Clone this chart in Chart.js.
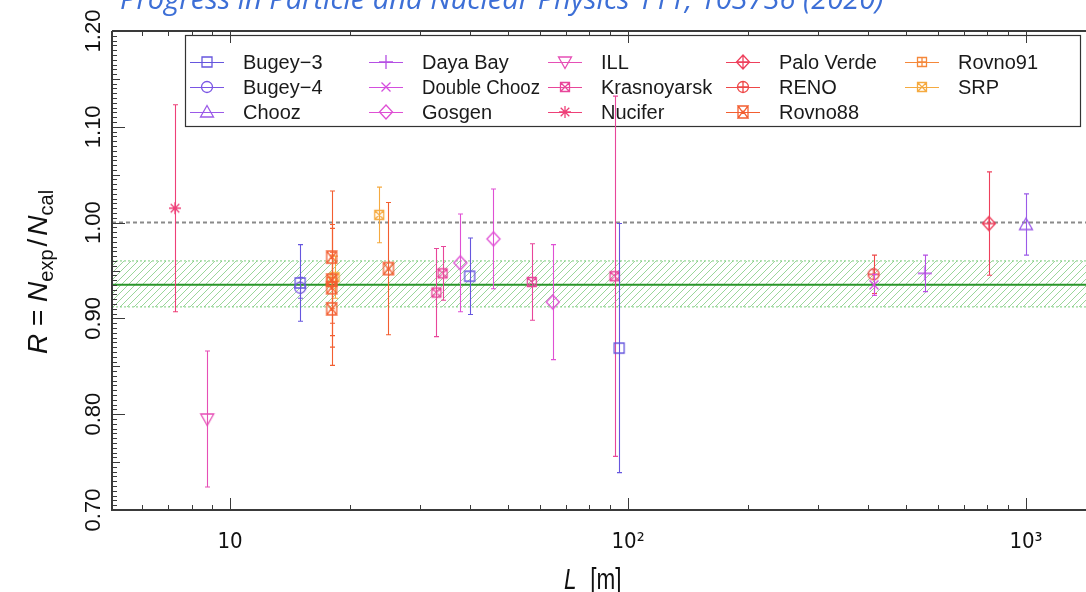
<!DOCTYPE html>
<html>
<head>
<meta charset="utf-8">
<script src="https://cdn.jsdelivr.net/npm/chart.js@4.4.1/dist/chart.umd.min.js"></script>
<style>
    html, body { margin: 0; padding: 0; background: #fff; overflow: hidden; width: 1086px; height: 592px; }
    #wrap { position: relative; width: 1086px; height: 592px; overflow: hidden; }
    #ratioCanvas { position: absolute; left: 0; top: 0; }
    #ref { position: absolute; left: 120px; top: -22px; line-height: 36px; font: italic 29px "Open Sans", sans-serif; color: #3d6fd6; white-space: nowrap; }
</style>
</head>
<body>
<div id="wrap">
    <canvas id="ratioCanvas" width="1121" height="592"></canvas>
    <div id="ref">Progress in Particle and Nuclear Physics 111, 103736 (2020)</div>
</div>
<script>
// axes
const L_MIN = 5.05, L_MAX = 1626;
const R_MIN = 0.70, R_MAX = 1.20;
const xTickLabels = { 10: '10', 100: '10²', 1000: '10³' };

// experiments (legend order)
const experiments = ['Bugey−3', 'Bugey−4', 'Chooz', 'Daya Bay', 'Double Chooz', 'Gosgen', 'ILL',
    'Krasnoyarsk', 'Nucifer', 'Palo Verde', 'RENO', 'Rovno88', 'Rovno91', 'SRP'];
const distances = [
    [15, 40, 95], [15], [1000], [557], [415], [37.9, 45.9, 64.7], [8.76],
    [33, 34.2, 57.3, 92.5], [7.27], [807], [414], [18, 18, 18, 18, 25], [18], [18.3, 23.7]
];
const ratios = [
    [0.937, 0.944, 0.869], [0.932], [0.998], [0.947], [0.935], [0.958, 0.983, 0.917], [0.795],
    [0.927, 0.947, 0.938, 0.944], [1.015], [0.999], [0.946], [0.964, 0.940, 0.932, 0.910, 0.952], [0.938], [0.943, 1.008]
];
const errors = [
    [0.040, 0.040, 0.130], [0.011], [0.032], [0.019], [0.011], [0.051, 0.052, 0.060], [0.071],
    [0.046, 0.028, 0.040, 0.188], [0.108], [0.054], [0.020], [0.069, 0.058, 0.062, 0.059, 0.069], [0.028], [0.022, 0.029]
];
const colors = ['#6656de', '#7a55e4', '#9b5ae8', '#b54fe4', '#d44fde', '#df50d4', '#e64fb6',
    '#e8469a', '#ee4078', '#ee405c', '#ee4848', '#f35e30', '#f5883a', '#f5aa40'];
const markers = ['square', 'circle', 'triUp', 'plus', 'cross', 'diamond', 'triDown',
    'boxX', 'star', 'diamondPlus', 'circlePlus', 'david', 'boxPlus', 'boxX'];

// reference lines
const meanRatio = 0.935;
const meanBand = [0.912, 0.960];
const unity = 1.0;

const FONT = '"Liberation Sans", Arial, sans-serif';
const NARROW = '"Liberation Sans Narrow", "DejaVu Sans Condensed", sans-serif';

function makeMarker(kind, color) {
    const s = 20, m = 10;
    const c = document.createElement('canvas');
    c.width = s; c.height = s;
    const g = c.getContext('2d');
    g.strokeStyle = color;
    g.lineWidth = 1.3;
    g.beginPath();
    const rect = (h) => g.rect(m - h, m - h, 2 * h, 2 * h);
    const plus = (h) => { g.moveTo(m - h, m); g.lineTo(m + h, m); g.moveTo(m, m - h); g.lineTo(m, m + h); };
    const cross = (h) => { g.moveTo(m - h, m - h); g.lineTo(m + h, m + h); g.moveTo(m - h, m + h); g.lineTo(m + h, m - h); };
    const diamond = (w, h) => { g.moveTo(m, m - h); g.lineTo(m + w, m); g.lineTo(m, m + h); g.lineTo(m - w, m); g.closePath(); };
    switch (kind) {
        case 'square': rect(5); break;
        case 'circle': g.arc(m, m, 5.5, 0, Math.PI * 2); break;
        case 'triUp': g.moveTo(m, m - 6.5); g.lineTo(m + 6.5, m + 5); g.lineTo(m - 6.5, m + 5); g.closePath(); break;
        case 'triDown': g.moveTo(m, m + 6.5); g.lineTo(m + 6.5, m - 5); g.lineTo(m - 6.5, m - 5); g.closePath(); break;
        case 'plus': plus(7); break;
        case 'cross': cross(4.5); break;
        case 'diamond': diamond(6.5, 7); break;
        case 'boxX': rect(4.5); cross(4.5); break;
        case 'star': plus(6); cross(4.3); break;
        case 'diamondPlus': diamond(6.5, 7); plus(6.5); break;
        case 'circlePlus': g.arc(m, m, 5.5, 0, Math.PI * 2); plus(5.5); break;
        case 'david':
            g.moveTo(m - 5, m - 6); g.lineTo(m + 5, m - 6); g.lineTo(m, m + 1); g.closePath();
            g.moveTo(m - 5, m + 6); g.lineTo(m + 5, m + 6); g.lineTo(m, m - 1); g.closePath();
            g.moveTo(m - 5, m - 6); g.lineTo(m - 5, m + 6); g.moveTo(m + 5, m - 6); g.lineTo(m + 5, m + 6);
            break;
        case 'boxPlus': rect(4.5); plus(4.5); break;
    }
    g.stroke();
    return c;
}

function makeHatch() {
    const t = 7;
    const c = document.createElement('canvas');
    c.width = t; c.height = t;
    const g = c.getContext('2d');
    g.strokeStyle = 'rgba(120, 200, 120, 0.75)';
    g.lineWidth = 1;
    g.beginPath();
    g.moveTo(0, t); g.lineTo(t, 0);
    g.moveTo(-1, 1); g.lineTo(1, -1);
    g.moveTo(t - 1, t + 1); g.lineTo(t + 1, t - 1);
    g.stroke();
    return g.createPattern(c, 'repeat');
}

const markerImages = markers.map((k, i) => makeMarker(k, colors[i]));

const pointSets = experiments.map((name, i) => ({
    label: name,
    type: 'scatter',
    data: distances[i].map((d, j) => ({ x: d, y: ratios[i][j] })),
    errors: errors[i],
    borderColor: colors[i],
    pointStyle: markerImages[i],
    showLine: false,
    order: 0
}));

const refLine = (val, extra) => Object.assign({
    type: 'line',
    data: [{ x: L_MIN, y: val }, { x: L_MAX, y: val }],
    pointRadius: 0,
    order: 5
}, extra);

const lineSets = [
    refLine(meanBand[1], { borderColor: 'rgba(110, 200, 110, 0.9)', borderWidth: 1, borderDash: [2, 2], fill: '+1', backgroundColor: makeHatch(), order: 6 }),
    refLine(meanBand[0], { borderColor: 'rgba(110, 200, 110, 0.9)', borderWidth: 1, borderDash: [2, 2], fill: false, order: 6 }),
    refLine(unity, { borderColor: '#8a8a8a', borderWidth: 2, borderDash: [4, 3], fill: false }),
    refLine(meanRatio, { borderColor: '#2a962a', borderWidth: 2, fill: false })
];

// error bars drawn just before each dataset's markers
const errorBars = {
    id: 'errorBars',
    beforeDatasetDraw(chart, args) {
        const ds = chart.data.datasets[args.index];
        if (!ds.errors) return;
        const { ctx, chartArea, scales: { x, y } } = chart;
        ctx.save();
        ctx.beginPath();
        ctx.rect(chartArea.left, chartArea.top, chartArea.right - chartArea.left, chartArea.bottom - chartArea.top);
        ctx.clip();
        ctx.strokeStyle = ds.borderColor;
        ctx.lineWidth = 1.1;
        ds.data.forEach((p, i) => {
            const px = Math.round(x.getPixelForValue(p.x)) + 0.5;
            const lo = y.getPixelForValue(p.y - ds.errors[i]);
            const hi = y.getPixelForValue(p.y + ds.errors[i]);
            ctx.beginPath();
            ctx.moveTo(px, lo); ctx.lineTo(px, hi);
            ctx.moveTo(px - 2.5, lo); ctx.lineTo(px + 2.5, lo);
            ctx.moveTo(px - 2.5, hi); ctx.lineTo(px + 2.5, hi);
            ctx.stroke();
        });
        ctx.restore();
    }
};

// legend box in the upper part of the frame
const legendBox = {
    id: 'legendBox',
    beforeDatasetsDraw(chart) {
        const ctx = chart.ctx;
        const colX = [207, 386, 565, 743, 922];
        const rowY = [62, 87, 112];
        ctx.save();
        ctx.strokeStyle = '#333';
        ctx.lineWidth = 1.2;
        ctx.strokeRect(185.5, 35.5, 895, 91);
        ctx.font = '20px ' + FONT;
        ctx.textBaseline = 'middle';
        ctx.fillStyle = '#1a1a1a';
        experiments.forEach((name, i) => {
            const cx = colX[Math.floor(i / 3)], cy = rowY[i % 3];
            ctx.strokeStyle = colors[i];
            ctx.lineWidth = 1.2;
            ctx.beginPath();
            ctx.moveTo(cx - 17, cy + 0.5); ctx.lineTo(cx + 17, cy + 0.5);
            ctx.stroke();
            ctx.drawImage(markerImages[i], cx - 10, cy - 10);
            ctx.fillText(name, cx + 36, cy + 1, 118);
        });
        ctx.restore();
    }
};

// frame, inner ticks and axis titles
const frame = {
    id: 'frame',
    afterDraw(chart) {
        const { ctx, chartArea: a, scales: { x, y } } = chart;
        ctx.save();
        ctx.strokeStyle = '#3a3a3a';
        ctx.lineWidth = 1;
        ctx.beginPath();
        for (let k = 0; k <= 100; k++) {
            const v = R_MIN + k * 0.005;
            const py = Math.round(y.getPixelForValue(v)) + 0.5;
            const len = k % 20 === 0 ? 13 : (k % 10 === 0 ? 8 : 5);
            ctx.moveTo(a.left, py); ctx.lineTo(a.left + len, py);
        }
        for (let d = 1; d <= 1000; d *= 10) {
            for (let m = 1; m <= 9; m++) {
                const v = d * m;
                if (v < L_MIN || v > L_MAX) continue;
                const px = Math.round(x.getPixelForValue(v)) + 0.5;
                const len = m === 1 ? 12 : 5;
                ctx.moveTo(px, a.bottom); ctx.lineTo(px, a.bottom - len);
                ctx.moveTo(px, a.top); ctx.lineTo(px, a.top + len);
            }
        }
        ctx.stroke();
        ctx.lineWidth = 2;
        ctx.beginPath();
        ctx.moveTo(a.left, a.top); ctx.lineTo(a.left, a.bottom); ctx.lineTo(a.right, a.bottom);
        ctx.moveTo(a.left, a.top); ctx.lineTo(a.right, a.top);
        ctx.stroke();

        // y title: R = N_exp / N_cal
        ctx.fillStyle = '#111';
        ctx.translate(37, 272);
        ctx.rotate(-Math.PI / 2);
        const parts = [
            { t: 'R', f: 'italic 28px ' + FONT, dy: 0 },
            { t: ' = ', f: '28px ' + FONT, dy: 0 },
            { t: 'N', f: 'italic 28px ' + FONT, dy: 0 },
            { t: 'exp', f: '20px ' + FONT, dy: 6 },
            { t: '/', f: '28px ' + FONT, dy: 0 },
            { t: 'N', f: 'italic 28px ' + FONT, dy: 0 },
            { t: 'cal', f: '20px ' + FONT, dy: 6 }
        ];
        let total = 0;
        parts.forEach(p => { ctx.font = p.f; p.w = ctx.measureText(p.t).width + (p.t === '/' ? 6 : 0); total += p.w; });
        let tx = -total / 2;
        ctx.textBaseline = 'alphabetic';
        parts.forEach(p => { ctx.font = p.f; ctx.fillText(p.t, tx + (p.t === '/' ? 3 : 0), 10 + p.dy); tx += p.w; });
        ctx.restore();

        // x title: L [m], condensed
        ctx.save();
        ctx.fillStyle = '#111';
        ctx.textBaseline = 'alphabetic';
        ctx.translate(564, 589);
        ctx.scale(0.75, 1);
        ctx.font = 'italic 30px ' + FONT;
        ctx.fillText('L', 0, 0);
        ctx.font = '30px ' + FONT;
        ctx.fillText('[m]', 35, 0);
        ctx.restore();
    }
};

const canvas = document.getElementById('ratioCanvas');
new Chart(canvas.getContext('2d'), {
    type: 'scatter',
    data: { datasets: [...lineSets, ...pointSets] },
    options: {
        responsive: false,
        animation: false,
        layout: { padding: { top: 31, left: 0, right: 0, bottom: 0 } },
        plugins: { legend: { display: false }, tooltip: { enabled: false } },
        scales: {
            x: {
                type: 'logarithmic',
                min: L_MIN,
                max: L_MAX,
                grid: { display: false },
                border: { display: false },
                afterFit: s => { s.height = 82; },
                ticks: {
                    autoSkip: false,
                    maxRotation: 0,
                    padding: 11,
                    color: '#111',
                    font: { size: 22, family: NARROW },
                    callback: v => {
                        const e = Math.log10(v);
                        return Math.abs(e - Math.round(e)) < 1e-9 && xTickLabels[Math.round(v)] ? xTickLabels[Math.round(v)] : '';
                    }
                }
            },
            y: {
                min: R_MIN,
                max: R_MAX,
                grid: { display: false },
                border: { display: false },
                afterFit: s => { s.width = 112; },
                ticks: {
                    stepSize: 0.1,
                    minRotation: 90,
                    maxRotation: 90,
                    crossAlign: 'center',
                    padding: -11,
                    color: '#111',
                    font: { size: 22, family: FONT },
                    callback: v => v.toFixed(2)
                }
            }
        }
    },
    plugins: [errorBars, legendBox, frame]
});
</script>
</body>
</html>
